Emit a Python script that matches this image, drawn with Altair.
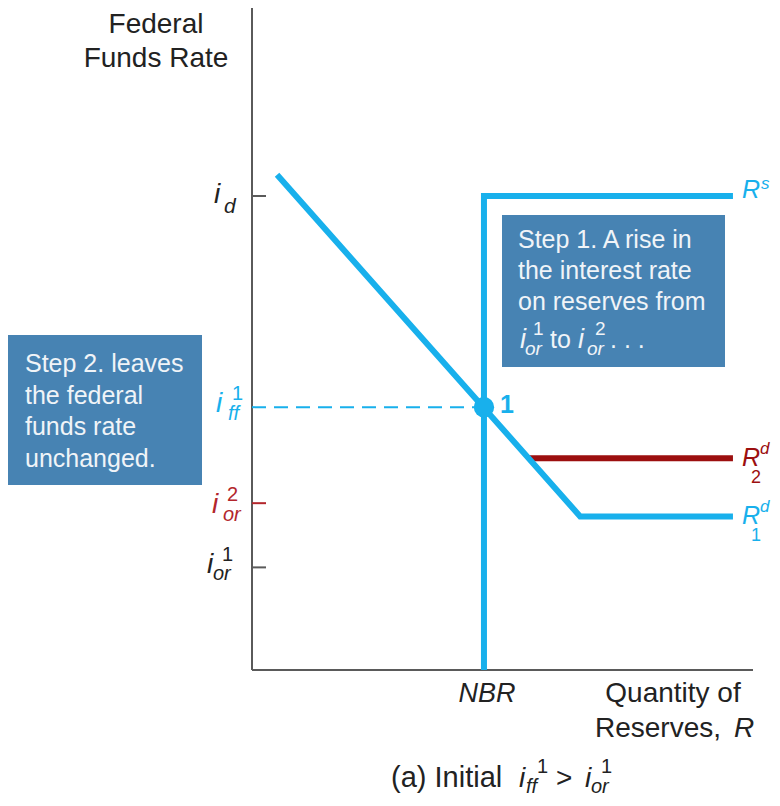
import altair as alt
import pandas as pd

# ---- data (model units) ----
rs_x = [4.63, 4.63, 9.6]
rs_y = [0.0, 7.16, 7.16]
rd1_x = [0.5, 6.55, 9.6]
rd1_y = [7.48, 2.32, 2.32]
rd2_x = [5.52, 9.6]
rd2_y = [3.20, 3.20]
nbr = 4.63
i_d = 7.16
i_ff = 3.97
i_or2 = 2.52
i_or1 = 1.55
tick_vals = [i_d, i_or2, i_or1]
tick_names = ["i_d", "i_or2", "i_or1"]

BLUE = "#18B0EC"
DRED = "#9C0F0F"
LRED = "#B3262C"
GRAY = "#5A5A5A"
BOX = "#4783B3"
BOXTXT = "#F0F4F8"
INK = "#222222"
FONT = "Liberation Sans"

X0, Y0 = 252, 8  # page coords of plot origin
W, H = 501, 662

xs = alt.Scale(domain=[0, 10], nice=False, zero=False)
ys = alt.Scale(domain=[0, 10], nice=False, zero=False)


def line_df(xv, yv):
    return pd.DataFrame({"x": xv, "y": yv, "o": list(range(len(xv)))})


def curve(xv, yv, color, width=6):
    return alt.Chart(line_df(xv, yv)).mark_line(
        color=color, strokeWidth=width, strokeCap="butt", strokeJoin="miter"
    ).encode(
        x=alt.X("x:Q", scale=xs, axis=None),
        y=alt.Y("y:Q", scale=ys, axis=None),
        order="o:Q",
    )


def txt(s, px, py, size, color, italic=False, bold=False, align="left", lh=None):
    props = dict(text=s, fontSize=size, color=color, font=FONT, align=align, baseline="alphabetic")
    if italic:
        props["fontStyle"] = "italic"
    if bold:
        props["fontWeight"] = "bold"
    if lh:
        props["lineHeight"] = lh
    return alt.Chart(alt.Data(values=[{}])).mark_text(**props).encode(
        x=alt.value(px - X0), y=alt.value(py - Y0)
    )


def box(x1, y1, x2, y2):
    return alt.Chart(alt.Data(values=[{}])).mark_rect(color=BOX).encode(
        x=alt.value(x1 - X0), x2=alt.value(x2 - X0), y=alt.value(y1 - Y0), y2=alt.value(y2 - Y0)
    )


# axes
yaxis = alt.Chart(pd.DataFrame({"x": [0], "y": [0], "y2": [10]})).mark_rule(color=GRAY, strokeWidth=2).encode(
    x=alt.X("x:Q", scale=xs, axis=None), y=alt.Y("y:Q", scale=ys, axis=None), y2="y2:Q")
xaxis = alt.Chart(pd.DataFrame({"x": [0], "x2": [10], "y": [0]})).mark_rule(color=GRAY, strokeWidth=2).encode(
    x=alt.X("x:Q", scale=xs, axis=None), x2="x2:Q", y=alt.Y("y:Q", scale=ys, axis=None))

tick_df = pd.DataFrame({"name": tick_names, "y": tick_vals, "x": [0] * 3, "x2": [0.28] * 3})
ticks = alt.Chart(tick_df).mark_rule(strokeWidth=2).encode(
    x=alt.X("x:Q", scale=xs, axis=None), x2="x2:Q", y=alt.Y("y:Q", scale=ys, axis=None),
    color=alt.Color("name:N", scale=alt.Scale(domain=tick_names, range=[GRAY, LRED, GRAY]), legend=None),
)

dashed = alt.Chart(pd.DataFrame({"x": [0], "x2": [nbr], "y": [i_ff]})).mark_rule(
    color=BLUE, strokeWidth=2, strokeDash=[14, 8]
).encode(x=alt.X("x:Q", scale=xs, axis=None), x2="x2:Q", y=alt.Y("y:Q", scale=ys, axis=None))

point = alt.Chart(pd.DataFrame({"x": [nbr], "y": [i_ff]})).mark_circle(size=415, color=BLUE, opacity=1).encode(
    x=alt.X("x:Q", scale=xs, axis=None), y=alt.Y("y:Q", scale=ys, axis=None))

layers = [
    yaxis, xaxis, ticks, dashed,
    curve(rd2_x, rd2_y, DRED),
    curve(rs_x, rs_y, BLUE),
    curve(rd1_x, rd1_y, BLUE),
    point,
    # boxes
    box(8, 335, 202, 485),
    box(502, 215, 725, 367),
    txt(["Step 2. leaves", "the federal", "funds rate", "unchanged."], 25, 372, 25, BOXTXT, lh=31.7),
    txt(["Step 1. A rise in", "the interest rate", "on reserves from"], 518, 248, 25, BOXTXT, lh=31),
    txt("i", 520, 348, 27, BOXTXT, italic=True),
    txt("1", 533, 335, 19, BOXTXT),
    txt("or", 525, 355, 19, BOXTXT, italic=True),
    txt("to", 550, 348, 25, BOXTXT),
    txt("i", 578, 348, 27, BOXTXT, italic=True),
    txt("2", 595, 335, 19, BOXTXT),
    txt("or", 587, 355, 19, BOXTXT, italic=True),
    txt(". . .", 610, 348, 25, BOXTXT),
    # title
    txt(["Federal", "Funds Rate"], 156, 33, 28, INK, align="center", lh=34),
    # tick labels
    txt("i", 214, 203, 28, INK, italic=True),
    txt("d", 224, 213, 21, INK, italic=True),
    txt("i", 216, 412, 28, BLUE, italic=True),
    txt("1", 232, 400, 20, BLUE),
    txt("ff", 228, 420, 20, BLUE, italic=True),
    txt("i", 212, 513, 28, LRED, italic=True),
    txt("2", 227, 501, 20, LRED),
    txt("or", 223, 521, 20, LRED, italic=True),
    txt("i", 207, 573, 28, INK, italic=True),
    txt("1", 222, 561, 20, INK),
    txt("or", 213, 580, 20, INK, italic=True),
    # point label
    txt("1", 500, 413, 25, BLUE, bold=True),
    # curve labels
    txt("R", 742, 198, 25, BLUE, italic=True),
    txt("s", 761, 189, 17, BLUE, italic=True),
    txt("R", 742, 466, 25, DRED, italic=True),
    txt("d", 760, 454, 17, DRED, italic=True),
    txt("2", 751, 483, 18, DRED),
    txt("R", 742, 524, 25, BLUE, italic=True),
    txt("d", 760, 512, 17, BLUE, italic=True),
    txt("1", 751, 541, 18, BLUE),
    # x-axis labels
    txt("NBR", 487, 702, 27, INK, italic=True, align="center"),
    txt("Quantity of", 673, 702, 28, INK, align="center"),
    txt("Reserves, ", 595, 737, 28, INK),
    txt("R", 734, 737, 28, INK, italic=True),
    # caption
    txt("(a) Initial", 391, 787, 29, INK),
    txt("i", 519, 787, 28, INK, italic=True),
    txt("1", 537, 773, 20, INK),
    txt("ff", 526, 793, 20, INK, italic=True),
    txt(">", 556, 787, 28, INK),
    txt("i", 585, 787, 28, INK, italic=True),
    txt("1", 601, 773, 20, INK),
    txt("or", 591, 793, 20, INK, italic=True),
]

chart = alt.layer(*layers).properties(
    width=W, height=H,
    autosize=alt.AutoSizeParams(type="none"),
    padding={"left": X0 - 8, "top": Y0 - 8, "right": 764 - (X0 - 8) - W, "bottom": 790 - (Y0 - 8) - H},
).configure_view(stroke=None)

chart.save("out.html", embed_options={"renderer": "svg", "actions": False})
